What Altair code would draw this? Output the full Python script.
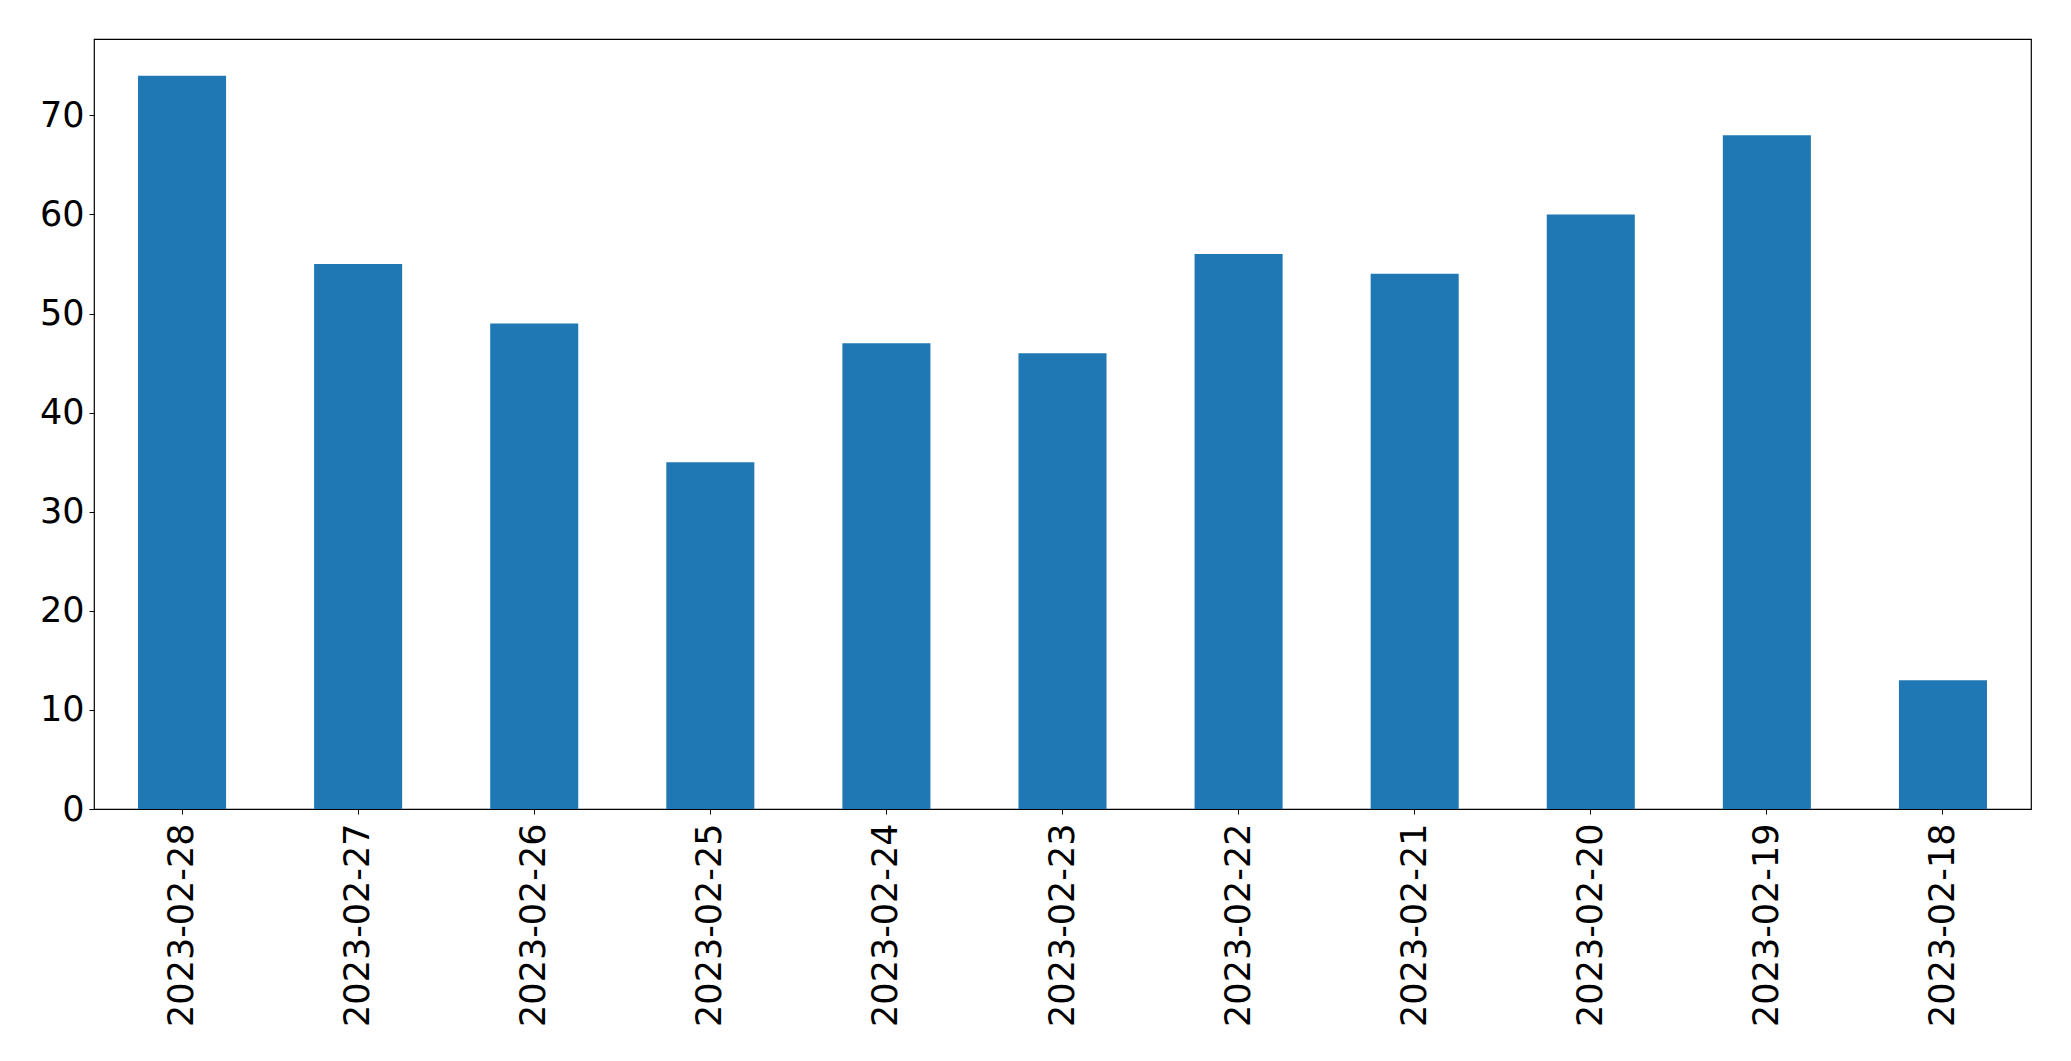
import altair as alt
import pandas as pd

dates = ["2023-02-28", "2023-02-27", "2023-02-26", "2023-02-25", "2023-02-24",
         "2023-02-23", "2023-02-22", "2023-02-21", "2023-02-20", "2023-02-19", "2023-02-18"]
counts = [74, 55, 49, 35, 47, 46, 56, 54, 60, 68, 13]
y_ticks = [0, 10, 20, 30, 40, 50, 60, 70]

df = pd.DataFrame({"date": dates, "count": counts})

chart = alt.Chart(df).mark_bar(color="#1f77b4").encode(
    x=alt.X("date:N", sort=dates, title=None,
            scale=alt.Scale(paddingInner=0.5, paddingOuter=0.25),
            axis=alt.Axis(labelAngle=270, labelFontSize=35, labelFont="DejaVu Sans",
                          labelColor="black", tickColor="black", tickSize=5,
                          labelPadding=9, domain=False, labelAlign="right",
                          labelBaseline="middle", labelLimit=0)),
    y=alt.Y("count:Q", title=None,
            scale=alt.Scale(domain=[0, 77.7], nice=False, zero=True),
            axis=alt.Axis(values=y_ticks, labelFontSize=35, labelFont="DejaVu Sans",
                          labelColor="black", tickColor="black", tickSize=5,
                          labelPadding=5, domain=False, grid=False)),
).properties(
    width=1937,
    height=770,
    autosize=alt.AutoSizeParams(type="none"),
    padding={"left": 86, "top": 31, "right": 30, "bottom": 240},
).configure_view(
    stroke="black", strokeWidth=1.2
).configure_axis(
    labelFlush=False
)

chart.save("out.html", embed_options={"renderer": "svg", "actions": False})
